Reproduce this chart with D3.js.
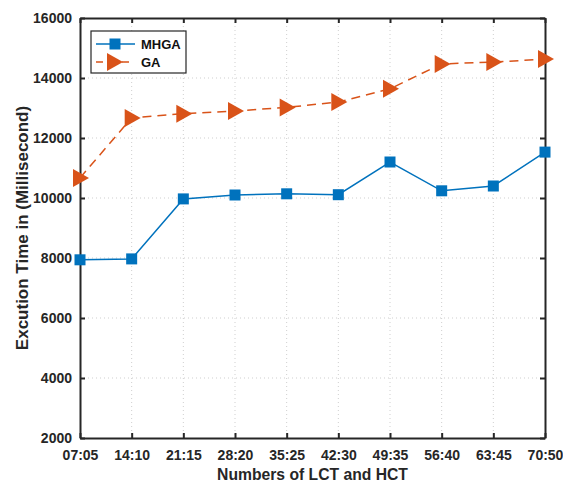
<!DOCTYPE html>
<html>
<head>
<meta charset="utf-8">
<script src="https://cdn.jsdelivr.net/npm/d3@7"></script>
<style>
body { margin: 0; background: #fff; }
text { font-family: "Liberation Sans", Arial, sans-serif; font-weight: bold; }
</style>
</head>
<body>
<div id="container"></div>
<script>
// data
var categories = ["07:05", "14:10", "21:15", "28:20", "35:25", "42:30", "49:35", "56:40", "63:45", "70:50"];
var mhga = [7940, 7970, 9970, 10100, 10140, 10110, 11200, 10240, 10400, 11530];
var ga = [10670, 12670, 12810, 12900, 13020, 13200, 13640, 14470, 14530, 14630];
var yTicks = [2000, 4000, 6000, 8000, 10000, 12000, 14000, 16000];

var w = 563, h = 485;
var pLeft = 80, pRight = 545, pTop = 18, pBottom = 438;

var svg = d3.select("#container").append("svg")
	.attr("width", w)
	.attr("height", h);

var x = d3.scalePoint()
	.domain(categories)
	.range([pLeft, pRight]);

var y = d3.scaleLinear()
	.domain([2000, 16000])
	.range([pBottom, pTop]);

//Grid
svg.append("g").selectAll("line")
	.data(categories.slice(1, -1))
	.enter().append("line")
	.attr("x1", function(d){ return x(d); })
	.attr("x2", function(d){ return x(d); })
	.attr("y1", pTop).attr("y2", pBottom)
	.attr("stroke", "#cfcfcf").attr("stroke-width", 1)
	.attr("stroke-dasharray", "1,3");

svg.append("g").selectAll("line")
	.data(yTicks.slice(1, -1))
	.enter().append("line")
	.attr("y1", function(d){ return y(d); })
	.attr("y2", function(d){ return y(d); })
	.attr("x1", pLeft).attr("x2", pRight)
	.attr("stroke", "#cfcfcf").attr("stroke-width", 1)
	.attr("stroke-dasharray", "1,3");

//Axes (inward ticks, mirrored)
var xAxis = svg.append("g")
	.attr("transform", "translate(0," + pBottom + ")")
	.call(d3.axisBottom(x).tickSizeInner(-5).tickSizeOuter(0).tickPadding(11));
var xTop = svg.append("g")
	.attr("transform", "translate(0," + pTop + ")")
	.call(d3.axisTop(x).tickSizeInner(-5).tickSizeOuter(0).tickFormat(""));
var yAxis = svg.append("g")
	.attr("transform", "translate(" + pLeft + ",0)")
	.call(d3.axisLeft(y).tickValues(yTicks).tickFormat(d3.format("d")).tickSizeInner(-5).tickSizeOuter(0).tickPadding(9));
var yRight = svg.append("g")
	.attr("transform", "translate(" + pRight + ",0)")
	.call(d3.axisRight(y).tickValues(yTicks).tickSizeInner(-5).tickSizeOuter(0).tickFormat(""));

[xAxis, xTop, yAxis, yRight].forEach(function(g){
	g.selectAll("path").attr("stroke", "#262626").attr("stroke-width", 2);
	g.selectAll("line").attr("stroke", "#262626").attr("stroke-width", 2);
	g.selectAll("text").attr("fill", "#262626").attr("font-size", "14px");
});
xAxis.selectAll("text").attr("y", 12).attr("dy", "0.71em");
yAxis.selectAll("text").attr("x", -8);

//Lines
var line = d3.line()
	.x(function(d, i){ return x(categories[i]); })
	.y(function(d){ return y(d); });

svg.append("path")
	.datum(mhga)
	.attr("d", line)
	.attr("fill", "none")
	.attr("stroke", "#0072BD")
	.attr("stroke-width", 1.5);

svg.append("path")
	.datum(ga)
	.attr("d", line)
	.attr("fill", "none")
	.attr("stroke", "#D95319")
	.attr("stroke-width", 1.5)
	.attr("stroke-dasharray", "9,6");

var sq = 11;
function square(g, cx, cy){
	g.append("rect")
		.attr("x", cx - sq / 2).attr("y", cy - sq / 2)
		.attr("width", sq).attr("height", sq)
		.attr("fill", "#0072BD");
}
function tri(g, cx, cy){
	g.append("path")
		.attr("d", "M" + (cx - 7) + "," + (cy - 9) + "L" + (cx + 9) + "," + cy + "L" + (cx - 7) + "," + (cy + 9) + "Z")
		.attr("fill", "#D95319");
}

var marks = svg.append("g");
mhga.forEach(function(d, i){ square(marks, x(categories[i]), y(d)); });
ga.forEach(function(d, i){ tri(marks, x(categories[i]), y(d)); });

//Axis titles
svg.append("text")
	.attr("x", (pLeft + pRight) / 2)
	.attr("y", 480)
	.attr("text-anchor", "middle")
	.attr("font-size", "15.7px")
	.attr("fill", "#262626")
	.text("Numbers of LCT and HCT");

svg.append("text")
	.attr("transform", "translate(28," + ((pTop + pBottom) / 2) + ") rotate(-90)")
	.attr("text-anchor", "middle")
	.attr("font-size", "17px")
	.attr("fill", "#262626")
	.text("Excution Time in (Millisecond)");

//Legend
var lg = svg.append("g");
lg.append("rect")
	.attr("x", 91).attr("y", 31)
	.attr("width", 95).attr("height", 42)
	.attr("fill", "#fff")
	.attr("stroke", "#262626").attr("stroke-width", 1.2);

lg.append("line").attr("x1", 96).attr("x2", 135).attr("y1", 44).attr("y2", 44)
	.attr("stroke", "#0072BD").attr("stroke-width", 1.5);
square(lg, 115, 44);
lg.append("line").attr("x1", 96).attr("x2", 135).attr("y1", 62).attr("y2", 62)
	.attr("stroke", "#D95319").attr("stroke-width", 1.5).attr("stroke-dasharray", "7,6");
tri(lg, 114, 62);

lg.append("text").attr("x", 141).attr("y", 49).attr("font-size", "13px").attr("fill", "#111").text("MHGA");
lg.append("text").attr("x", 141).attr("y", 67).attr("font-size", "13px").attr("fill", "#111").text("GA");
</script>
</body>
</html>
